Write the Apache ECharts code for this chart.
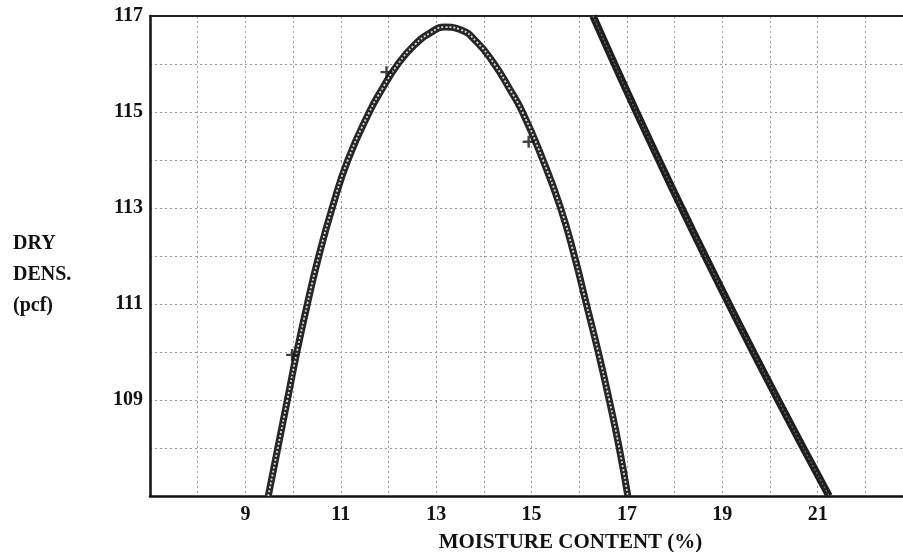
<!DOCTYPE html>
<html>
<head>
<meta charset="utf-8">
<script src="https://cdn.jsdelivr.net/npm/echarts@6/dist/echarts.min.js"></script>
<style>
  html, body { margin: 0; padding: 0; background: #fff; }
  #chart { width: 903px; height: 552px; }
</style>
</head>
<body>
<div id="chart"></div>
<script>
// Compaction curve: moisture content (%) vs dry density (pcf)
const curveMoisture = [9.48, 9.68, 9.88, 10.08, 10.30, 10.54, 10.82, 11.15, 11.60, 11.88, 12.20, 12.55, 12.88, 13.18, 13.50, 13.86, 14.22, 14.53, 14.81, 15.24, 15.61, 15.90, 16.15, 16.40, 16.63, 16.84, 17.02];
const curveDensity  = [107.0, 108.0, 109.0, 110.0, 111.0, 112.0, 113.0, 114.0, 115.0, 115.5, 116.0, 116.4, 116.65, 116.77, 116.72, 116.45, 116.0, 115.5, 115.0, 114.0, 113.0, 112.0, 111.0, 110.0, 109.0, 108.0, 107.0];

// Test points
const testMoisture = [9.98, 11.96, 14.94];
const testDensity  = [109.94, 115.83, 114.38];

// Zero air voids line
const zavMoisture = [16.29, 16.74, 17.20, 17.67, 18.15, 18.64, 19.14, 19.65, 20.17, 20.70, 21.24];
const zavDensity  = [117.0, 116.0, 115.0, 114.0, 113.0, 112.0, 111.0, 110.0, 109.0, 108.0, 107.0];

// Labelled ticks
const xTickLabels = [9, 11, 13, 15, 17, 19, 21];
const yTickLabels = [109, 111, 113, 115, 117];

const pair = (xs, ys) => xs.map((x, i) => [x, ys[i]]);

const serif = '"Liberation Serif", "DejaVu Serif", serif';
const plus = 'path://M4,0 L6,0 L6,4 L10,4 L10,6 L6,6 L6,10 L4,10 L4,6 L0,6 L0,4 L4,4 Z';

const chart = echarts.init(document.getElementById('chart'));
chart.setOption({
  backgroundColor: '#ffffff',
  animation: false,
  title: {
    text: 'DRY\nDENS.\n(pcf)',
    left: 8,
    top: 223,
    textStyle: { fontFamily: serif, fontWeight: 'bold', fontSize: 20, lineHeight: 31, color: '#111' }
  },
  grid: { left: 150, right: -10, top: 16, bottom: 56, containLabel: false, outerBoundsMode: 'none' },
  xAxis: [{
    type: 'value',
    min: 7,
    max: 23,
    interval: 1,
    name: 'MOISTURE CONTENT (%)',
    nameLocation: 'middle',
    nameGap: 36,
    nameTextStyle: { fontFamily: serif, fontWeight: 'bold', fontSize: 21, color: '#111', padding: [0, 0, 0, 78] },
    axisLine: { show: true, onZero: false, lineStyle: { color: '#111', width: 2.5 } },
    axisTick: { show: false },
    axisLabel: {
      margin: 9,
      fontFamily: serif, fontWeight: 'bold', fontSize: 20, color: '#111',
      formatter: v => xTickLabels.includes(v) ? String(v) : ''
    },
    splitLine: { show: true, lineStyle: { color: '#999', type: [2, 3], width: 1 } }
  }, {
    type: 'value',
    position: 'top',
    min: 7,
    max: 23,
    axisLine: { show: true, onZero: false, lineStyle: { color: '#222', width: 2 } },
    axisTick: { show: false },
    axisLabel: { show: false },
    splitLine: { show: false }
  }],
  yAxis: {
    type: 'value',
    min: 107,
    max: 117,
    interval: 1,
    axisLine: { show: true, onZero: false, lineStyle: { color: '#111', width: 2.5 } },
    axisTick: { show: false },
    axisLabel: {
      margin: 7,
      fontFamily: serif, fontWeight: 'bold', fontSize: 20, color: '#111',
      formatter: v => yTickLabels.includes(v) ? String(v) : ''
    },
    splitLine: { show: true, lineStyle: { color: '#999', type: [2, 3], width: 1 } }
  },
  series: [
    {
      type: 'line',
      data: pair(zavMoisture, zavDensity),
      smooth: 0.3,
      showSymbol: false,
      lineStyle: { color: '#1e1e1e', width: 7.5 },
      z: 3
    },
    {
      type: 'line',
      data: pair(zavMoisture, zavDensity),
      smooth: 0.3,
      showSymbol: false,
      lineStyle: { color: '#6a6a6a', width: 1.2, type: [2, 2] },
      z: 4
    },
    {
      type: 'line',
      data: pair(curveMoisture, curveDensity),
      smooth: 0.5,
      showSymbol: false,
      lineStyle: { color: '#262626', width: 7 },
      z: 3
    },
    {
      type: 'line',
      data: pair(curveMoisture, curveDensity),
      smooth: 0.5,
      showSymbol: false,
      lineStyle: { color: '#d8d8d8', width: 1.8, type: [2, 2] },
      z: 4
    },
    {
      type: 'scatter',
      data: pair(testMoisture, testDensity),
      symbol: plus,
      symbolSize: 12,
      itemStyle: { color: '#111' },
      z: 5
    }
  ]
});
</script>
</body>
</html>
